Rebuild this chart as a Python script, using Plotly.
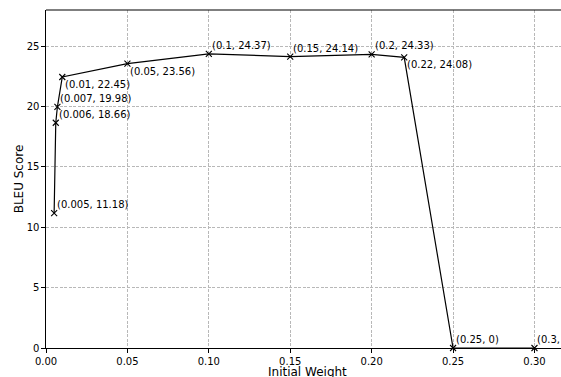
import plotly.graph_objects as go

weights = [0.005, 0.006, 0.007, 0.01, 0.05, 0.1, 0.15, 0.2, 0.22, 0.25, 0.3]
bleu = [11.18, 18.66, 19.98, 22.45, 23.56, 24.37, 24.14, 24.33, 24.08, 0, 0]
labels = ["(0.005, 11.18)", "(0.006, 18.66)", "(0.007, 19.98)", "(0.01, 22.45)",
          "(0.05, 23.56)", "(0.1, 24.37)", "(0.15, 24.14)", "(0.2, 24.33)",
          "(0.22, 24.08)", "(0.25, 0)", "(0.3, 0)"]
# label placement: above (baseline at point) or below the point
below = [False, False, False, True, True, False, False, False, True, False, False]

x_ticks = [0.0, 0.05, 0.10, 0.15, 0.20, 0.25, 0.30]
x_ticktext = ["0.00", "0.05", "0.10", "0.15", "0.20", "0.25", "0.30"]
y_ticks = [0, 5, 10, 15, 20, 25]

font = "DejaVu Sans"

fig = go.Figure()
fig.add_trace(go.Scatter(
    x=weights, y=bleu, mode="lines+markers",
    line=dict(color="black", width=1.2),
    marker=dict(symbol="x-thin", size=6, color="black",
                line=dict(color="black", width=1.1)),
    cliponaxis=False, showlegend=False,
))

for xv, yv, t, b in zip(weights, bleu, labels, below):
    fig.add_annotation(
        x=xv, y=yv, text=t, showarrow=False,
        xanchor="left", yanchor="top" if b else "bottom",
        xshift=1, yshift=0 if b else 1,
        font=dict(family=font, size=10, color="black"),
    )

# x-axis title (centred on the full, partly cropped, axes box)
fig.add_annotation(
    xref="paper", yref="paper", x=0.508, y=0, yanchor="top", yshift=-15,
    text="Initial Weight", showarrow=False,
    font=dict(family=font, size=12, color="black"),
)

# top spine
fig.add_shape(type="line", xref="paper", yref="paper", x0=0, x1=1.02, y0=1, y1=1,
              line=dict(color="black", width=1.2))

axis_common = dict(
    showline=True, linecolor="black", linewidth=1.2,
    ticks="outside", ticklen=3.5, tickwidth=1, tickcolor="black",
    showgrid=True, gridcolor="#b8b8b8", gridwidth=0.8, griddash="3px,1.5px",
    zeroline=False,
    tickfont=dict(family=font, size=10, color="black"),
)

fig.update_layout(
    width=561, height=377,
    margin=dict(l=46, r=0, t=10, b=29),
    plot_bgcolor="white", paper_bgcolor="white",
    xaxis=dict(range=[0, 0.3163], tickvals=x_ticks, ticktext=x_ticktext,
               **axis_common),
    yaxis=dict(range=[0, 28], tickvals=y_ticks,
               title=dict(text="BLEU Score", standoff=0,
                          font=dict(family=font, size=12, color="black")),
               **axis_common),
)

fig.write_html("out.html", config={"displayModeBar": False},
               post_script="document.body.style.margin='0';document.body.style.overflow='hidden';")
